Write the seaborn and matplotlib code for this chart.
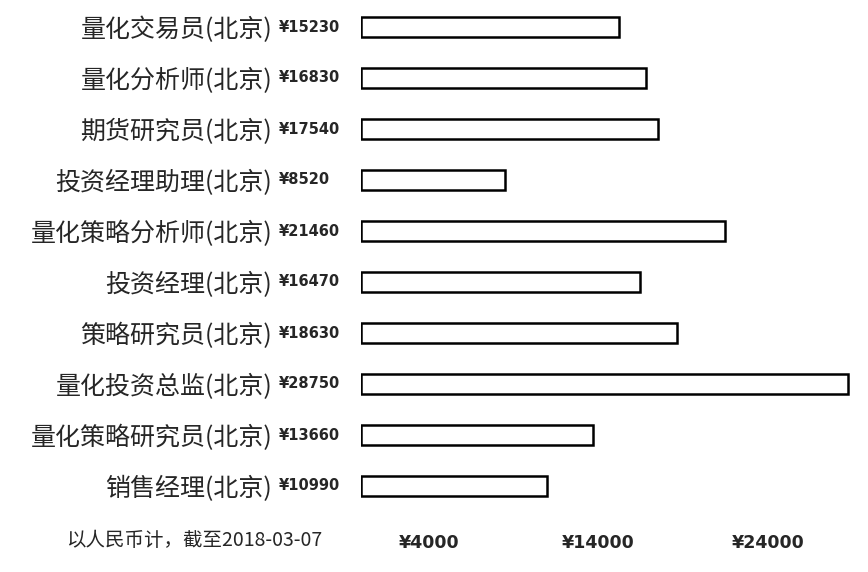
import matplotlib
matplotlib.use("Agg")
import matplotlib.pyplot as plt
import seaborn as sns

jobs = ['量化交易员(北京)', '量化分析师(北京)', '期货研究员(北京)', '投资经理助理(北京)',
        '量化策略分析师(北京)', '投资经理(北京)', '策略研究员(北京)', '量化投资总监(北京)',
        '量化策略研究员(北京)', '销售经理(北京)']
salary = [15230, 16830, 17540, 8520, 21460, 16470, 18630, 28750, 13660, 10990]
xticks = [4000, 14000, 24000]
note = '以人民币计，截至2018-03-07'

sns.set_style('white')
plt.rcParams['font.family'] = ['Noto Sans CJK SC', 'DejaVu Sans']

fig = plt.figure(figsize=(8.68, 5.72), dpi=100)
ax = fig.add_axes([361 / 868, 1 - 511.5 / 572, 500 / 868, 510 / 572])

sns.barplot(x=salary, y=jobs, orient='h', color='white', saturation=1,
            edgecolor='black', linewidth=1.8, width=0.4, ax=ax)

ax.set_xlim(0, 29500)
ax.set_xticks(xticks)
ax.set_xticklabels(['¥%d' % t for t in xticks], fontsize=12.5, fontweight='bold',
                   family='DejaVu Sans')
ax.tick_params(axis='x', length=0, pad=16)
ax.tick_params(axis='y', length=0, pad=64, labelsize=18)
for lab in ax.get_yticklabels():
    lab.set_fontweight('medium')
sns.despine(ax=ax, left=True, bottom=True)
ax.set_xlabel('')
ax.set_ylabel('')

for i, v in enumerate(salary):
    ax.annotate('¥%d' % v, xy=(0, i), xycoords=('axes fraction', 'data'),
                xytext=(-59, 0), textcoords='offset points', ha='left', va='center',
                fontsize=10.5, fontweight='bold', family='DejaVu Sans')

fig.text(194 / 868, 1 - 541 / 572, note, ha='center', va='center', fontsize=14)

fig.savefig('out.png', dpi=100)
